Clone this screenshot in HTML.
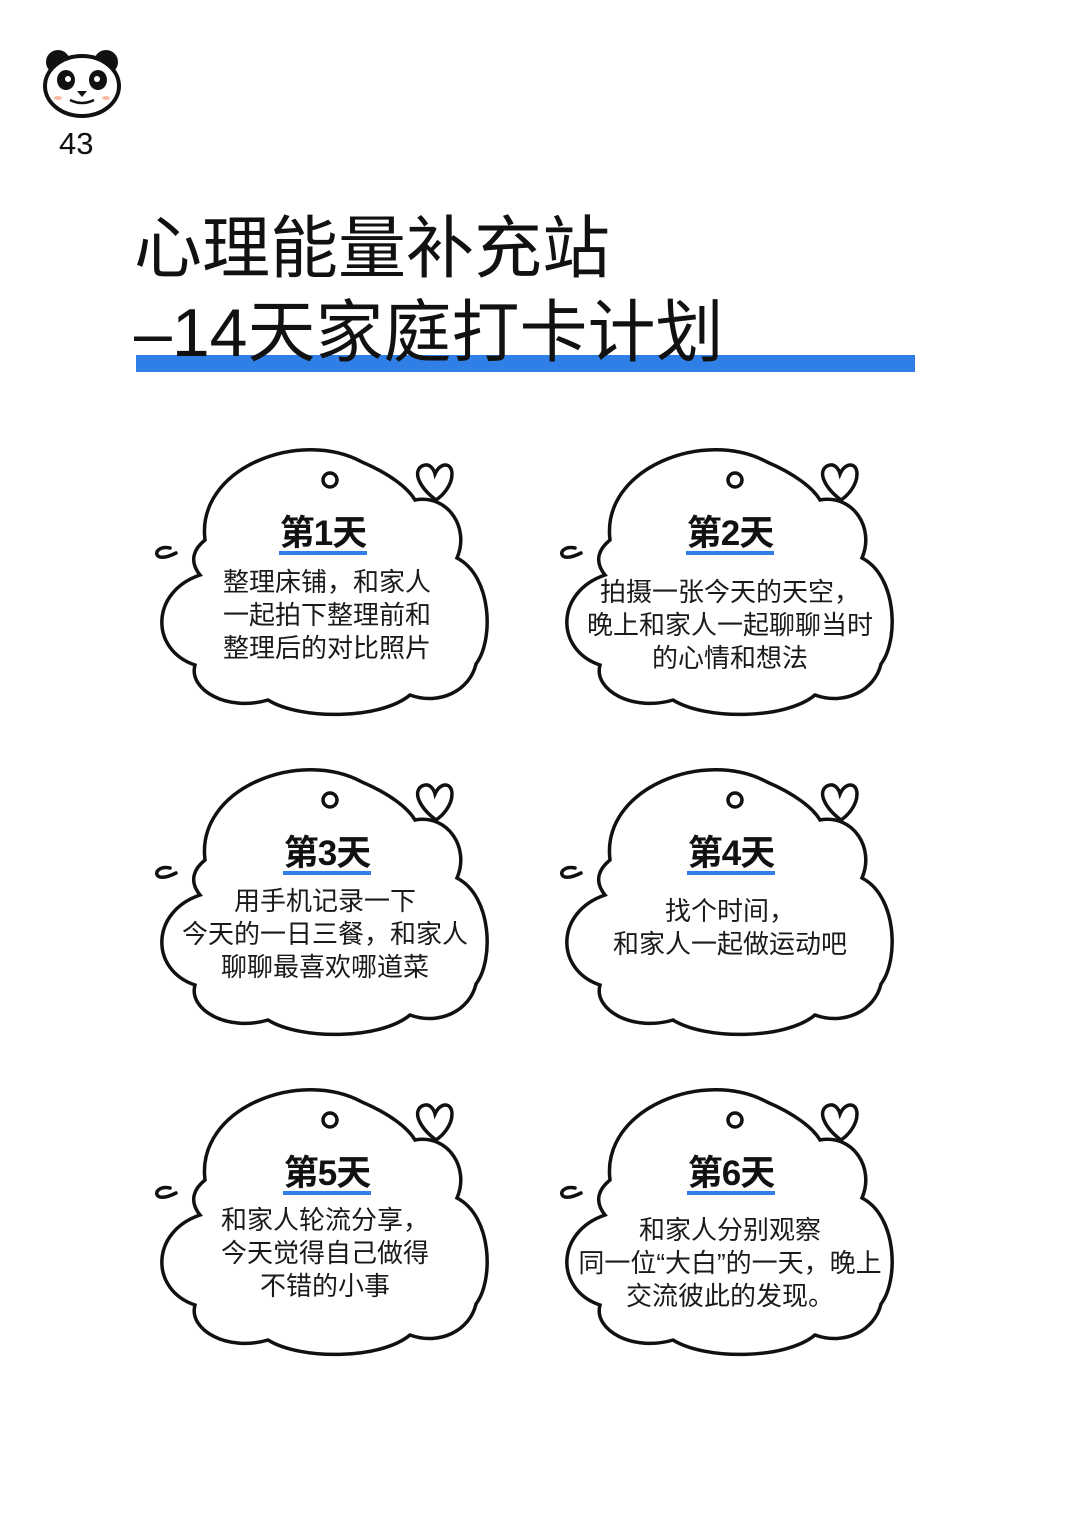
<!DOCTYPE html>
<html><head><meta charset="utf-8"><style>
body{margin:0;background:#fff;}
.wrap{position:relative;width:1080px;height:1528px;overflow:hidden;font-family:"Liberation Sans","Noto Sans CJK SC",sans-serif;color:#111;}
.t{position:absolute;white-space:nowrap;}
.h{font-size:68px;left:134px;letter-spacing:0px;}
.ct{position:absolute;width:360px;text-align:center;font-size:26px;line-height:33px;color:#1a1a1a;white-space:nowrap;}
.ti{position:absolute;width:200px;text-align:center;font-size:35px;font-weight:bold;letter-spacing:-1px;}
.ti span{border-bottom:4px solid #2f7fe6;line-height:34px;display:inline-block;padding:0 1px;}
</style></head><body><div class="wrap">
<svg width="1080" height="1528" style="position:absolute;left:0;top:0">
<defs>
<g id="cl" fill="none" stroke="#111" stroke-width="3.5" stroke-linecap="round">
<path d="M205,540 C196,468 300,428 362,462 C390,474 408,488 415,500 C448,494 470,528 457,558 C492,576 494,640 476,664 C470,690 440,706 410,695 C380,720 300,720 268,700 C228,712 188,690 195,665 C150,650 150,592 200,575 C188,560 195,548 205,540 Z" fill="#fff"/>
<circle cx="330" cy="480" r="7"/>
<path d="M436,500 C420,488 412,472 422,466 C430,462 434,470 435,474 C440,462 452,462 452,474 C452,486 442,496 436,500 Z"/>
<path d="M170,548 C160,546 154,552 158,556 C162,559 170,556 176,553"/>
</g>
</defs>
<use href="#cl"/><use href="#cl" x="405"/>
<use href="#cl" y="320"/><use href="#cl" x="405" y="320"/>
<use href="#cl" y="640"/><use href="#cl" x="405" y="640"/>
<rect x="136" y="355" width="779" height="17" fill="#2f7fe6"/>
<circle cx="58" cy="62" r="12" fill="#111"/><circle cx="106" cy="62" r="12" fill="#111"/>
<ellipse cx="82" cy="86" rx="37" ry="30" fill="#fff" stroke="#111" stroke-width="4"/>
<ellipse cx="66" cy="80" rx="9" ry="10" fill="#111"/><ellipse cx="98" cy="80" rx="9" ry="10" fill="#111"/>
<circle cx="68" cy="79" r="3" fill="#fff"/><circle cx="97" cy="79" r="3" fill="#fff"/>
<path d="M77,91 L87,91 L82,97 Z" fill="#111"/>
<path d="M70,100 Q82,106 94,100" fill="none" stroke="#111" stroke-width="2.5"/>
<ellipse cx="58" cy="98" rx="4" ry="2" fill="#f6b9a6"/><ellipse cx="106" cy="98" rx="4" ry="2" fill="#f6b9a6"/>
</svg>
<div class="t" style="left:59px;top:126px;font-size:31px;">43</div>
<div class="t h" style="top:193px;">心理能量补充站</div>
<div class="t h" style="top:277px;">–14天家庭打卡计划</div>

<div class="ti" style="left:223px;top:514px"><span>第1天</span></div>
<div class="ct" style="left:147px;top:566px">整理床铺，和家人<br>一起拍下整理前和<br>整理后的对比照片</div>
<div class="ti" style="left:630px;top:514px"><span>第2天</span></div>
<div class="ct" style="left:550px;top:576px">拍摄一张今天的天空，<br>晚上和家人一起聊聊当时<br>的心情和想法</div>

<div class="ti" style="left:227px;top:834px"><span>第3天</span></div>
<div class="ct" style="left:145px;top:885px">用手机记录一下<br>今天的一日三餐，和家人<br>聊聊最喜欢哪道菜</div>
<div class="ti" style="left:631px;top:834px"><span>第4天</span></div>
<div class="ct" style="left:550px;top:895px">找个时间，<br>和家人一起做运动吧</div>

<div class="ti" style="left:227px;top:1154px"><span>第5天</span></div>
<div class="ct" style="left:145px;top:1204px">和家人轮流分享，<br>今天觉得自己做得<br>不错的小事</div>
<div class="ti" style="left:631px;top:1154px"><span>第6天</span></div>
<div class="ct" style="left:550px;top:1214px">和家人分别观察<br>同一位“大白”的一天，晚上<br>交流彼此的发现。</div>
</div></body></html>
